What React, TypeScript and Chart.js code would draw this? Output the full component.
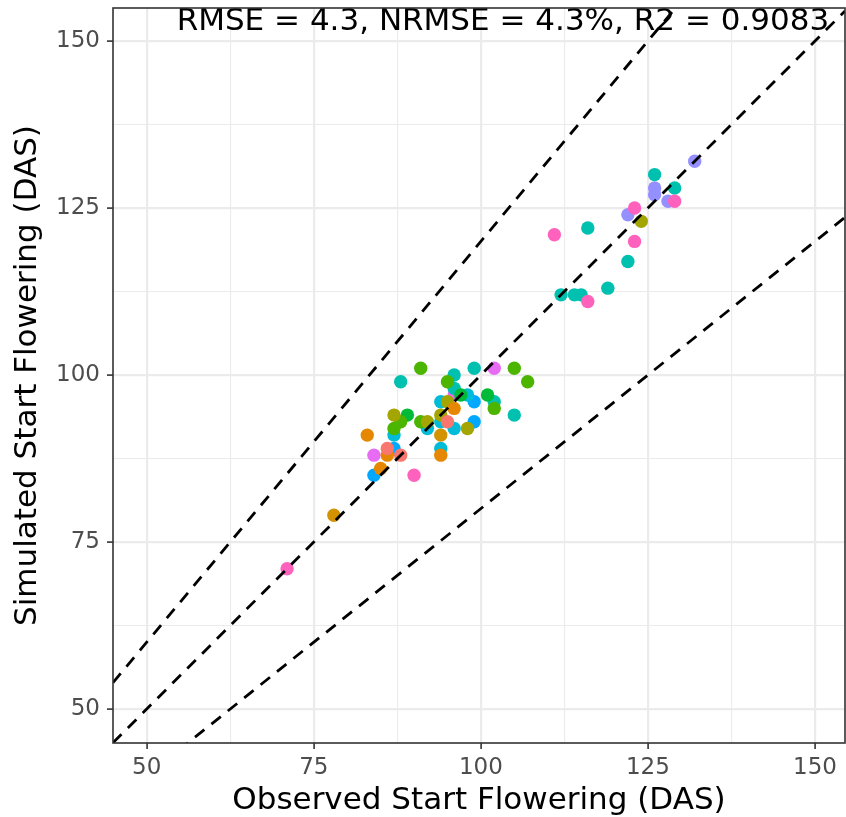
import React, { useEffect, useRef } from "react";
import { Chart, registerables } from "chart.js";
Chart.register(...registerables);

// ---- data (observed / simulated start of flowering, days after sowing) ----
const groupColors = [
  "#FF62BC", // pink
  "#F8766D", // salmon
  "#E58700", // orange
  "#D39200", // gold
  "#A3A500", // olive
  "#4CB500", // green
  "#00BA38", // bright green
  "#00C0B0", // teal
  "#00BCD8", // cyan
  "#00A9FF", // blue
  "#9590FF", // purple
  "#E76BF3", // magenta
];

const obsByGroup: number[][] = [
  [71, 90, 111, 116, 123, 123, 129],
  [86, 88, 95],
  [83, 85, 86, 94, 96],
  [78, 94],
  [87, 92, 94, 95, 98, 124],
  [91, 95, 105, 107, 102, 88, 87, 91],
  [89, 97, 101],
  [88, 96, 96, 99, 102, 105, 112, 114, 115, 116, 119, 122, 126, 129],
  [87, 92, 94, 94, 96, 94, 98],
  [84, 87, 99, 99],
  [132, 126, 126, 128, 122],
  [84, 96, 102],
];

const simByGroup: number[][] = [
  [71, 85, 121, 111, 125, 120, 126],
  [89, 88, 93],
  [91, 86, 88, 88, 95],
  [79, 91],
  [94, 93, 94, 96, 92, 123],
  [101, 99, 101, 99, 95, 93, 92, 93],
  [94, 97, 97],
  [99, 100, 98, 101, 96, 94, 112, 112, 112, 122, 113, 117, 130, 128],
  [91, 92, 93, 89, 92, 96, 97],
  [85, 89, 93, 96],
  [132, 128, 127, 126, 124],
  [88, 97, 101],
];

const lineRatios = [1.2, 1.0, 0.8];
const majorTicks = [50, 75, 100, 125, 150];
const minorTicks = [62.5, 87.5, 112.5, 137.5];
const xRange = [44.95, 154.49];
const yRange = [44.91, 154.94];
const statsText = "RMSE = 4.3, NRMSE = 4.3%, R2 = 0.9083";
const statsPos = [103.3, 152.8];
const xTitle = "Observed Start Flowering (DAS)";
const yTitle = "Simulated Start Flowering (DAS)";

const FONT = "'DejaVu Sans', sans-serif";

export default function App() {
  const ref = useRef<HTMLCanvasElement>(null);

  useEffect(() => {
    document.body.style.margin = "0";
    const canvas = ref.current!;
    const allTicks = [...majorTicks, ...minorTicks].sort((a, b) => a - b);
    const isMajor = (v: number) => majorTicks.includes(v);

    const pointSets = obsByGroup.map((obs, g) => ({
      type: "scatter" as const,
      data: obs.map((x, i) => ({ x, y: simByGroup[g][i] })),
      backgroundColor: groupColors[g],
      borderWidth: 0,
      pointRadius: 6.7,
      pointHoverRadius: 6.7,
      order: 2,
    }));

    const lineSets = lineRatios.map((r) => ({
      type: "line" as const,
      data: [
        { x: xRange[0], y: r * xRange[0] },
        { x: xRange[1], y: r * xRange[1] },
      ],
      borderColor: "#000000",
      borderWidth: 2.8,
      borderDash: [12, 9],
      pointRadius: 0,
      fill: false,
      showLine: true,
      clip: 0,
      order: 1,
    }));

    const gridOpts = {
      color: "#EBEBEB",
      lineWidth: (ctx: any) => (isMajor(ctx.tick?.value) ? 2.2 : 1.1),
      tickColor: (ctx: any) => (isMajor(ctx.tick?.value) ? "#333333" : "rgba(0,0,0,0)"),
      tickLength: 6,
      tickWidth: 1.6,
    };

    const textPlugin = {
      id: "statsText",
      beforeDatasetsDraw(chart: any) {
        const c = chart.ctx;
        c.save();
        c.font = `31px ${FONT}`;
        c.fillStyle = "#000000";
        c.textAlign = "center";
        c.textBaseline = "middle";
        c.fillText(
          statsText,
          chart.scales.x.getPixelForValue(statsPos[0]),
          chart.scales.y.getPixelForValue(statsPos[1])
        );
        c.restore();
      },
    };

    const borderPlugin = {
      id: "panelBorder",
      afterDraw(chart: any) {
        const { left, top, right, bottom } = chart.chartArea;
        const c = chart.ctx;
        c.save();
        c.strokeStyle = "#333333";
        c.lineWidth = 1.6;
        c.strokeRect(left, top, right - left, bottom - top);
        c.restore();
      },
    };

    const chart = new Chart(canvas, {
      type: "scatter",
      data: { datasets: [...lineSets, ...pointSets] as any },
      options: {
        animation: false,
        responsive: false,
        maintainAspectRatio: false,
        layout: { autoPadding: false, padding: { top: 8, right: 1, left: 0, bottom: 0 } },
        plugins: { legend: { display: false }, tooltip: { enabled: false } },
        scales: {
          x: {
            type: "linear",
            min: xRange[0],
            max: xRange[1],
            afterBuildTicks: (s: any) => {
              s.ticks = allTicks.map((v) => ({ value: v }));
            },
            afterFit: (s: any) => {
              s.height = 74;
              s.paddingLeft = 0;
              s.paddingRight = 0;
            },
            ticks: {
              autoSkip: false,
              maxRotation: 0,
              padding: 5,
              color: "#4D4D4D",
              font: { family: FONT, size: 23 },
              callback: (v: any) => (isMajor(Number(v)) ? String(v) : ""),
            },
            grid: gridOpts as any,
            border: { display: false },
            title: {
              display: true,
              text: xTitle,
              color: "#000000",
              font: { family: FONT, size: 31 },
              padding: { top: 0, bottom: -3 },
            },
          },
          y: {
            type: "linear",
            min: yRange[0],
            max: yRange[1],
            afterBuildTicks: (s: any) => {
              s.ticks = allTicks.map((v) => ({ value: v }));
            },
            afterFit: (s: any) => {
              s.width = 113;
              s.paddingTop = 0;
              s.paddingBottom = 0;
            },
            ticks: {
              autoSkip: false,
              padding: 7,
              color: "#4D4D4D",
              font: { family: FONT, size: 23 },
              callback: (v: any) => (isMajor(Number(v)) ? String(v) : ""),
            },
            grid: gridOpts as any,
            border: { display: false },
            title: {
              display: true,
              text: yTitle,
              color: "#000000",
              font: { family: FONT, size: 31 },
              padding: { top: 9, bottom: 0 },
            },
          },
        },
      },
      plugins: [textPlugin, borderPlugin],
    });

    return () => chart.destroy();
  }, []);

  return (
    <div style={{ width: 846, height: 817 }}>
      <canvas ref={ref} width={846} height={817} />
    </div>
  );
}
